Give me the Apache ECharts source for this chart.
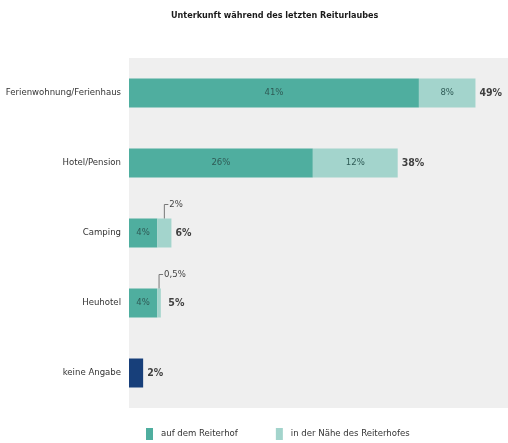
<!DOCTYPE html>
<html>
<head>
<meta charset="utf-8">
<script src="https://cdn.jsdelivr.net/npm/echarts@6/dist/echarts.min.js"></script>
<style>
  html, body { margin: 0; padding: 0; background: #ffffff; }
  #chart { width: 508px; height: 443px; }
</style>
</head>
<body>
<div id="chart"></div>
<script>
// Accommodation during the last riding holiday (shares in %)
const categories = ['Ferienwohnung/Ferienhaus', 'Hotel/Pension', 'Camping', 'Heuhotel', 'keine Angabe'];
const onFarm = [41, 26, 4, 4, null];
const nearFarm = [8, 12, 2, 0.5, null];
const noAnswer = [null, null, null, null, 2];
const totals = [49, 38, 6, 5, 2];
const nearLabels = ['8%', '12%', '2%', '0,5%', ''];
// rows whose "near" share is labelled outside with a leader line
const calloutRows = [2, 3];

const FONT = '"DejaVu Sans Condensed", "DejaVu Sans", sans-serif';
const DARK = '#4fae9f';
const LIGHT = '#a3d4cc';
const NAVY = '#173f7a';
const INNER_TXT = '#2f5b56';

const chart = echarts.init(document.getElementById('chart'), null, { renderer: 'canvas' });

const fmtPct = v => (String(v).replace('.', ',')) + '%';

const calloutData = calloutRows.map(i => [onFarm[i] + nearFarm[i] / 2, i, nearLabels[i]]);
const totalData = totals.map((t, i) => [t, i]);

chart.setOption({
  animation: false,
  title: {
    text: 'Unterkunft während des letzten Reiturlaubes',
    left: 166,
    top: 6,
    textStyle: { fontFamily: FONT, fontSize: 9, fontWeight: 'bold', color: '#1a1a1a' }
  },
  legend: {
    bottom: 3,
    left: 146,
    padding: 0,
    itemWidth: 7,
    itemHeight: 12,
    itemGap: 38,
    icon: 'rect',
    data: ['auf dem Reiterhof', 'in der Nähe des Reiterhofes'],
    textStyle: { fontFamily: FONT, fontSize: 9.5, color: '#333', padding: [0, 0, 0, 3] }
  },
  grid: {
    left: 129, right: 0, top: 58, bottom: 35,
    containLabel: false,
    outerBoundsMode: 'none',
    show: true, backgroundColor: '#efefef', borderWidth: 0
  },
  xAxis: {
    type: 'value', min: 0, max: 53.6, show: false
  },
  yAxis: {
    type: 'category',
    data: categories,
    inverse: true,
    axisLine: { show: false },
    axisTick: { show: false },
    axisLabel: { fontFamily: FONT, fontSize: 9.5, color: '#333', margin: 8 }
  },
  series: [
    {
      name: 'auf dem Reiterhof', type: 'bar', stack: 'all', barWidth: 29,
      itemStyle: { color: DARK },
      label: { show: true, position: 'inside', fontFamily: FONT, fontSize: 9.5, color: INNER_TXT,
               formatter: p => fmtPct(p.value) },
      data: onFarm
    },
    {
      name: 'in der Nähe des Reiterhofes', type: 'bar', stack: 'all', barWidth: 29,
      itemStyle: { color: LIGHT },
      label: { show: true, position: 'inside', fontFamily: FONT, fontSize: 9.5, color: INNER_TXT,
               formatter: p => calloutRows.includes(p.dataIndex) ? '' : nearLabels[p.dataIndex] },
      data: nearFarm
    },
    {
      name: 'keine Angabe', type: 'bar', stack: 'all', barWidth: 29,
      itemStyle: { color: NAVY },
      data: noAnswer
    },
    {
      // bold totals to the right of each bar
      name: 'Gesamt', type: 'scatter', symbolSize: 0,
      label: { show: true, position: 'right', distance: 4, fontFamily: FONT, fontSize: 10.5,
               fontWeight: 'bold', color: '#111', formatter: p => fmtPct(p.value[0]) },
      data: totalData
    },
    {
      // leader-line callouts for the small "near" shares
      name: 'Hinweis', type: 'custom',
      renderItem: (params, api) => {
        const pt = api.coord([api.value(0), api.value(1)]);
        const top = pt[1] - 14.5;
        const up = top - 14;
        return {
          type: 'group',
          children: [
            { type: 'polyline', shape: { points: [[pt[0], top], [pt[0], up], [pt[0] + 4, up]] },
              style: { stroke: '#777', lineWidth: 1, fill: null } },
            { type: 'text', x: pt[0] + 5, y: up,
              style: { text: api.value(2), fontFamily: FONT, fontSize: 9.5, fill: '#444',
                       textAlign: 'left', textVerticalAlign: 'middle' } }
          ]
        };
      },
      dimensions: ['x', 'y', 'txt'],
      encode: { x: 0, y: 1 },
      data: calloutData,
      z: 5
    }
  ]
});
</script>
</body>
</html>
